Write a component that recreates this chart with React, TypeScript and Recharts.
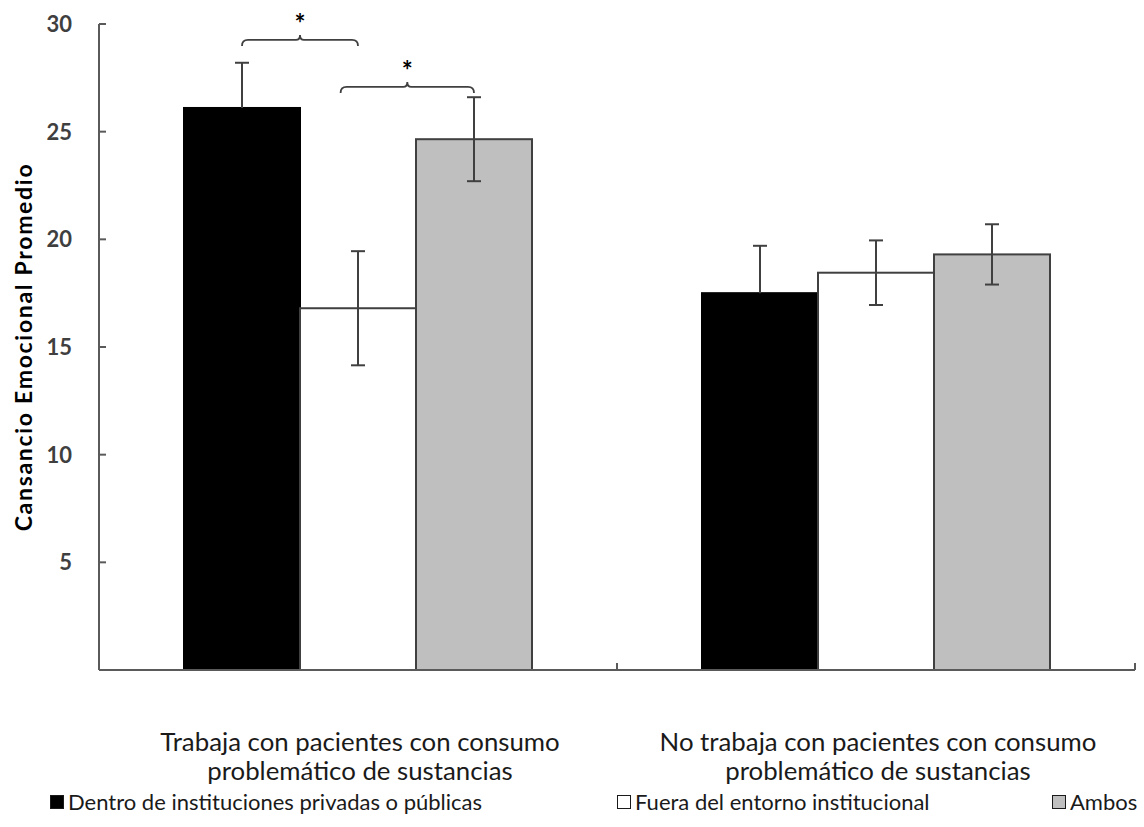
import React from "react";
import { BarChart, Bar, XAxis, YAxis } from "recharts";

// groups on the x axis (two text lines each)
const groups = ["Trabaja", "No trabaja"];
const groupLines = [
  ["Trabaja con pacientes con consumo", "problemático de sustancias"],
  ["No trabaja con pacientes con consumo", "problemático de sustancias"],
];

// mean values and error (±) per series
const dentro = [26.1, 17.5];
const fuera = [16.8, 18.45];
const ambos = [24.65, 19.3];
const dentroErr = [2.1, 2.2];
const fueraErr = [2.65, 1.5];
const ambosErr = [1.95, 1.4];

const yTicks = [5, 10, 15, 20, 25, 30];

const seriesNames = [
  "Dentro de instituciones privadas o públicas",
  "Fuera del entorno institucional",
  "Ambos",
];

// significance brackets in the first group: bar slots and y levels
const sigFrom = [0, 0.85];
const sigTo = [1, 2];
const sigLevel = [29.26, 27.08];
const starLevel = [30.3, 28.1];

const data = groups.map((g, i) => ({
  group: g,
  lines: groupLines[i],
  dentro: dentro[i],
  fuera: fuera[i],
  ambos: ambos[i],
  dentroErr: dentroErr[i],
  fueraErr: fueraErr[i],
  ambosErr: ambosErr[i],
}));

const FONT = "Lato, 'Open Sans', sans-serif";
const AXIS = "#5a5a5a";
const EDGE = "#404040";

function makeShape(key: string, errKey: string, fill: string, upOnly: boolean, withSig: boolean) {
  return (props: any) => {
    const { x, y, width, height, payload, index } = props;
    const value = payload[key];
    const ppu = height / value;
    const base = y + height;
    const err = payload[errKey];
    const cx = x + width / 2;
    const eTop = y - err * ppu;
    const eBot = y + err * ppu;
    return (
      <g>
        <rect x={x} y={y} width={width} height={height} fill={fill}
          stroke={fill === "#000000" ? "#000000" : EDGE} strokeWidth={2} />
        <line x1={cx} x2={cx} y1={eTop} y2={upOnly ? y : eBot} stroke={EDGE} strokeWidth={2} />
        <line x1={cx - 7} x2={cx + 7} y1={eTop} y2={eTop} stroke={EDGE} strokeWidth={2} />
        {!upOnly && <line x1={cx - 7} x2={cx + 7} y1={eBot} y2={eBot} stroke={EDGE} strokeWidth={2} />}
        {withSig && index === 0 && sigLevel.map((lv, k) => {
          // this is slot 2; other slot centers are one bar width apart
          const x1 = cx + (sigFrom[k] - 2) * width;
          const x2 = cx + (sigTo[k] - 2) * width;
          const xm = (x1 + x2) / 2;
          const ly = base - lv * ppu;
          const sy = base - starLevel[k] * ppu;
          const d = `M${x1},${ly + 6} Q${x1},${ly} ${x1 + 6},${ly} L${xm - 4},${ly} Q${xm},${ly} ${xm},${ly - 5} Q${xm},${ly} ${xm + 4},${ly} L${x2 - 6},${ly} Q${x2},${ly} ${x2},${ly + 6}`;
          return (
            <g key={k}>
              <path d={d} fill="none" stroke={EDGE} strokeWidth={1.8} />
              <text x={xm} y={sy + 15} textAnchor="middle" fontFamily={FONT} fontWeight="bold" fontSize={26} fill="#000">*</text>
            </g>
          );
        })}
      </g>
    );
  };
}

function YTick(props: any) {
  const { x, y, payload } = props;
  return (
    <g>
      <line x1={x} x2={x + 7} y1={y} y2={y} stroke={AXIS} strokeWidth={2} />
      <text x={x - 27} y={y + 8} textAnchor="end" fontFamily={FONT} fontWeight="bold" fontSize={22} fill="#3f3f3f">
        {payload.value}
      </text>
    </g>
  );
}

function XTick(props: any) {
  const { x, y, payload, index } = props;
  const half = payload.offset ?? 259;
  const lines = groupLines[index] ?? [];
  return (
    <g>
      <line x1={x + half} x2={x + half} y1={y} y2={y - 7} stroke={AXIS} strokeWidth={2} />
      {lines.map((t, i) => (
        <text key={i} x={x + 2} y={y + 81 + i * 29} textAnchor="middle" fontFamily={FONT} fontSize={25.8} fill="#1a1a1a">
          {t}
        </text>
      ))}
    </g>
  );
}

function YLabel(props: any) {
  const vb = props.viewBox || { x: 0, y: 24, width: 99, height: 646 };
  const cx = 23;
  const cy = vb.y + vb.height / 2;
  return (
    <text x={cx} y={cy} transform={`rotate(-90 ${cx} ${cy})`} textAnchor="middle" dominantBaseline="central"
      fontFamily={FONT} fontWeight="bold" fontSize={23} letterSpacing={1.7} fill="#000">
      Cansancio Emocional Promedio
    </text>
  );
}

const legendItems = [
  { left: 50, fill: "#000000" },
  { left: 617, fill: "#ffffff" },
  { left: 1052, fill: "#bfbfbf" },
];

export default function App() {
  return (
    <div style={{ position: "absolute", left: 0, top: 0, width: 1144, height: 827, background: "#fff" }}>
      <BarChart width={1144} height={827} data={data} barSize={116} barGap={0}
        margin={{ top: 24, right: 9, left: 0, bottom: 57 }}>
        <XAxis dataKey="group" height={100} tick={<XTick />} tickLine={false} tickSize={0} tickMargin={0}
          axisLine={{ stroke: AXIS, strokeWidth: 2 }} interval={0} />
        <YAxis width={99} domain={[0, 30]} ticks={yTicks} tick={<YTick />} tickLine={false} tickSize={0}
          tickMargin={0} axisLine={{ stroke: AXIS, strokeWidth: 2 }} label={<YLabel />} />
        <Bar dataKey="dentro" name={seriesNames[0]} fill="#000000" isAnimationActive={false}
          shape={makeShape("dentro", "dentroErr", "#000000", true, false)} />
        <Bar dataKey="fuera" name={seriesNames[1]} fill="#ffffff" isAnimationActive={false}
          shape={makeShape("fuera", "fueraErr", "#ffffff", false, false)} />
        <Bar dataKey="ambos" name={seriesNames[2]} fill="#bfbfbf" isAnimationActive={false}
          shape={makeShape("ambos", "ambosErr", "#bfbfbf", false, true)} />
      </BarChart>
      {legendItems.map((it, i) => (
        <div key={i} style={{ position: "absolute", left: it.left, top: 789, display: "flex", alignItems: "center",
          fontFamily: FONT, fontSize: 22, lineHeight: "26px", color: "#1a1a1a", whiteSpace: "nowrap" }}>
          <span style={{ display: "inline-block", width: 12, height: 12, background: it.fill,
            border: "1.5px solid #1a1a1a", marginRight: 4 }} />
          {seriesNames[i]}
        </div>
      ))}
    </div>
  );
}
